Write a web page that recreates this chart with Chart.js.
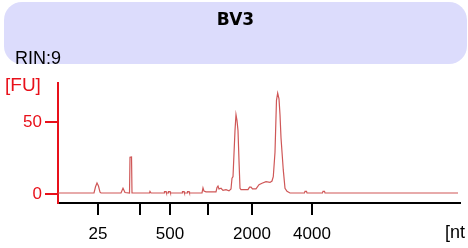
<!DOCTYPE html>
<html>
<head>
<meta charset="utf-8">
<script src="https://cdn.jsdelivr.net/npm/chart.js@4"></script>
<style>
  body { margin: 0; width: 468px; height: 248px; overflow: hidden; background: #fff; font-family: "Liberation Sans", sans-serif; }
  #wrap { position: relative; width: 468px; height: 248px; }
  #chart { position: absolute; left: 0; top: 0; }
  #head { position: absolute; left: 4px; top: 2px; width: 463px; height: 62px; background: #dcdcfc; border-radius: 18px; }
  #title { position: absolute; left: 0; width: 100%; top: 7px; line-height: 20px; text-align: center; font-family: "DejaVu Sans", sans-serif; font-weight: bold; font-size: 17px; color: #000; }
  #rin { position: absolute; left: 11px; top: 46px; line-height: 20px; font-size: 18px; color: #000; }
  #fu { position: absolute; left: 5px; top: 75px; line-height: 20px; font-size: 19px; color: #e8101a; }
  #nt { position: absolute; left: 445px; top: 222px; line-height: 20px; font-size: 18px; color: #000; }
</style>
</head>
<body>
<div id="wrap">
  <canvas id="chart" width="468" height="248"></canvas>
  <div id="head"><div id="title">BV3</div><div id="rin">RIN:9</div></div>
  <div id="fu">[FU]</div>
  <div id="nt">[nt</div>
</div>
<script>
// migration time (s) and fluorescence (FU)
const migTime = [20, 24.5, 24.69, 24.875, 25.06, 25.25, 25.375, 27.875, 28.125, 28.375,
  28.94, 29.0, 29.19, 29.25, 31.44, 31.5, 31.625, 33.25, 33.31, 33.5,
  33.56, 33.75, 33.81, 34.0, 34.06, 35.5, 35.56, 35.75, 35.81, 36.125,
  36.19, 36.375, 36.44, 38.0, 38.125, 38.25, 38.5, 39.75, 39.875, 40.0,
  40.125, 40.375, 40.625, 41.0, 41.375, 41.625, 41.75, 41.875, 42.125, 42.25,
  42.375, 42.5, 42.625, 42.75, 42.875, 43.75, 43.94, 44.125, 44.31, 44.75,
  45.125, 45.5, 46.0, 46.5, 46.75, 46.91, 47.125, 47.31, 47.46, 47.625,
  47.75, 47.875, 48.16, 48.375, 48.625, 49.0, 50.81, 50.875, 51.06, 51.125,
  53.06, 53.125, 53.31, 53.375, 70];
const fluor = [0.7, 0.7, 5, 7.6, 5.5, 1.2, 0.7, 0.7, 4, 1,
  0.7, 25.5, 25.7, 0.7, 0.7, 1.8, 0.7, 0.7, 1.7, 1.7,
  0.7, 0.7, 1.7, 1.7, 0.7, 0.7, 1.7, 1.7, 0.7, 0.7,
  1.7, 1.7, 0.7, 0.7, 4.2, 2, 1.5, 1.5, 4.5, 5.5,
  3.5, 4, 2.5, 3, 2.2, 3.5, 11, 12, 44, 55,
  51, 44, 23, 4, 3, 3, 4.8, 4.8, 3.5, 3.5,
  6.5, 7.5, 8.5, 8, 9, 12, 29, 65, 70, 66,
  55, 39, 16.7, 4, 1.8, 0.7, 0.7, 1.8, 1.8, 0.7,
  0.7, 1.8, 1.8, 0.7, 0.7];

// ladder ticks on the time axis
const tickTimes = [25, 30.25, 34, 38.75, 44.25, 51.75];
const tickLabels = ['25', '', '500', '', '2000', '4000'];
const yTicks = [0, 50];

const red = '#e8101a';

new Chart(document.getElementById('chart'), {
  type: 'line',
  data: {
    datasets: [{
      data: migTime.map((t, i) => ({ x: t, y: fluor[i] })),
      borderColor: '#cf5757',
      borderWidth: 1.2,
      pointRadius: 0,
      tension: 0,
      fill: false
    }]
  },
  options: {
    responsive: false,
    animation: false,
    layout: { padding: { top: 83, right: 8, left: 0, bottom: 0 } },
    plugins: { legend: { display: false }, tooltip: { enabled: false } },
    scales: {
      x: {
        type: 'linear',
        min: 20,
        max: 70.25,
        afterBuildTicks: s => { s.ticks = tickTimes.map(v => ({ value: v })); },
        afterFit: s => { s.height = 45; },
        ticks: {
          callback: (v, i) => tickLabels[i],
          color: '#000',
          font: { family: 'Liberation Sans', size: 17 },
          maxRotation: 0,
          autoSkip: false,
          padding: 9
        },
        grid: { drawOnChartArea: false, tickLength: 12, color: '#000', lineWidth: 2 },
        border: { color: '#000', width: 2 }
      },
      y: {
        min: -6.25,
        max: 77,
        afterBuildTicks: s => { s.ticks = yTicks.map(v => ({ value: v })); },
        afterFit: s => { s.width = 58; },
        ticks: {
          color: red,
          font: { family: 'Liberation Sans', size: 17 },
          padding: 3
        },
        grid: { drawOnChartArea: false, tickLength: 13, color: red, lineWidth: 2 },
        border: { color: red, width: 2 }
      }
    }
  }
});
</script>
</body>
</html>
